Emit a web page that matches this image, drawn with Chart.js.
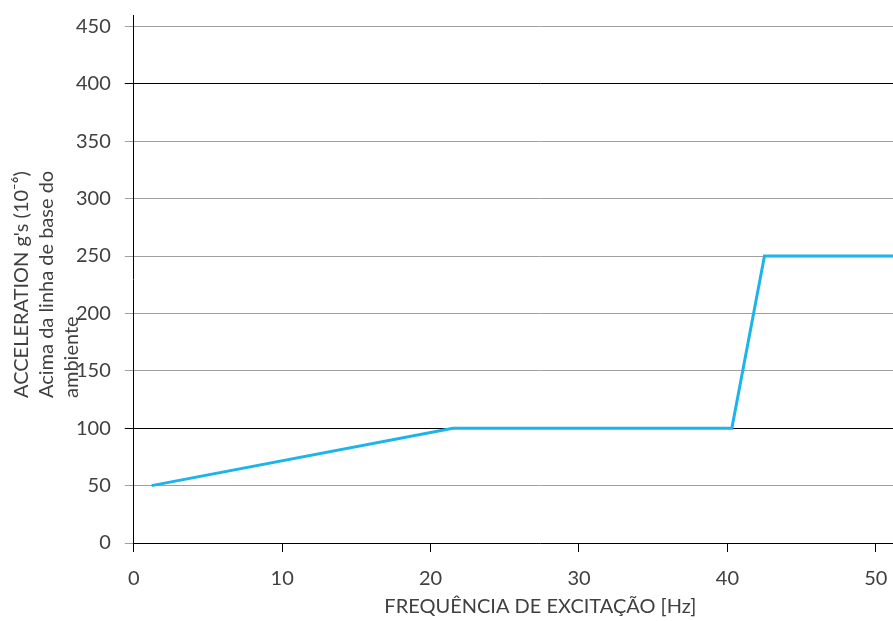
<!DOCTYPE html>
<html>
<head>
<meta charset="utf-8">
<script src="https://cdn.jsdelivr.net/npm/chart.js@4"></script>
<style>
  body { margin: 0; overflow: hidden; background: #fff; }
  #wrap { width: 947px; height: 621px; }
</style>
</head>
<body>
<div id="wrap"><canvas id="myChart" width="947" height="621"></canvas></div>
<script>
// data
const freq = [1.2, 21.5, 40.3, 42.5, 55];
const accel = [50, 100, 100, 250, 250];
const yTicks = [0, 50, 100, 150, 200, 250, 300, 350, 400, 450];
const xTicks = [0, 10, 20, 30, 40, 50];
const yTitleLines = ["ACCELERATION g's (10\u207B\u2076)", 'Acima da linha de base do', 'ambiente'];
const xTitle = 'FREQUÊNCIA DE EXCITAÇÃO [Hz]';
const darkGrid = [100, 400];

const fontFam = 'Lato, "Open Sans", sans-serif';
const textColor = '#404040';

// y title drawn by hand so the last line overlaps the tick labels like the original
const yTitlePlugin = {
    id: 'yTitle',
    afterDraw(chart) {
        const ctx = chart.ctx;
        ctx.save();
        ctx.fillStyle = textColor;
        ctx.font = '20px ' + fontFam;
        ctx.textAlign = 'left';
        ctx.textBaseline = 'middle';
        yTitleLines.forEach(function (line, i) {
            ctx.save();
            ctx.translate(22 + i * 25, 398);
            ctx.rotate(-Math.PI / 2);
            ctx.fillText(line, 0, 0);
            ctx.restore();
        });
        ctx.restore();
    }
};

const ctx = document.getElementById('myChart').getContext('2d');
const myChart = new Chart(ctx, {
    type: 'line',
    data: {
        datasets: [{
            data: freq.map((f, i) => ({ x: f, y: accel[i] })),
            borderColor: '#1cb4ea',
            borderWidth: 3,
            pointRadius: 0,
            tension: 0,
            fill: false
        }]
    },
    options: {
        responsive: false,
        animation: false,
        layout: { padding: { left: 62, top: 15, right: 0, bottom: 0 } },
        plugins: { legend: { display: false }, tooltip: { enabled: false } },
        scales: {
            x: {
                type: 'linear',
                min: 0,
                max: 54.8,
                afterBuildTicks: (axis) => { axis.ticks = xTicks.map(v => ({ value: v })); },
                ticks: { color: textColor, font: { family: fontFam, size: 20 }, padding: 15, maxRotation: 0 },
                grid: { drawOnChartArea: false, drawTicks: true, tickLength: 9, color: '#000' },
                border: { color: '#000', width: 1 },
                title: { display: true, text: xTitle, color: textColor, font: { family: fontFam, size: 20 }, padding: { top: -11, bottom: 2 } }
            },
            y: {
                min: 0,
                max: 460,
                afterBuildTicks: (axis) => { axis.ticks = yTicks.map(v => ({ value: v })); },
                afterFit: (axis) => { axis.paddingTop = 0; },
                ticks: { color: textColor, font: { family: fontFam, size: 20 }, padding: 14 },
                grid: {
                    tickLength: 9,
                    lineWidth: 1,
                    color: (c) => (c.tick && darkGrid.includes(c.tick.value)) ? '#000' : '#a0a0a0'
                },
                border: { color: '#000', width: 1 }
            }
        }
    },
    plugins: [yTitlePlugin]
});
</script>
</body>
</html>
